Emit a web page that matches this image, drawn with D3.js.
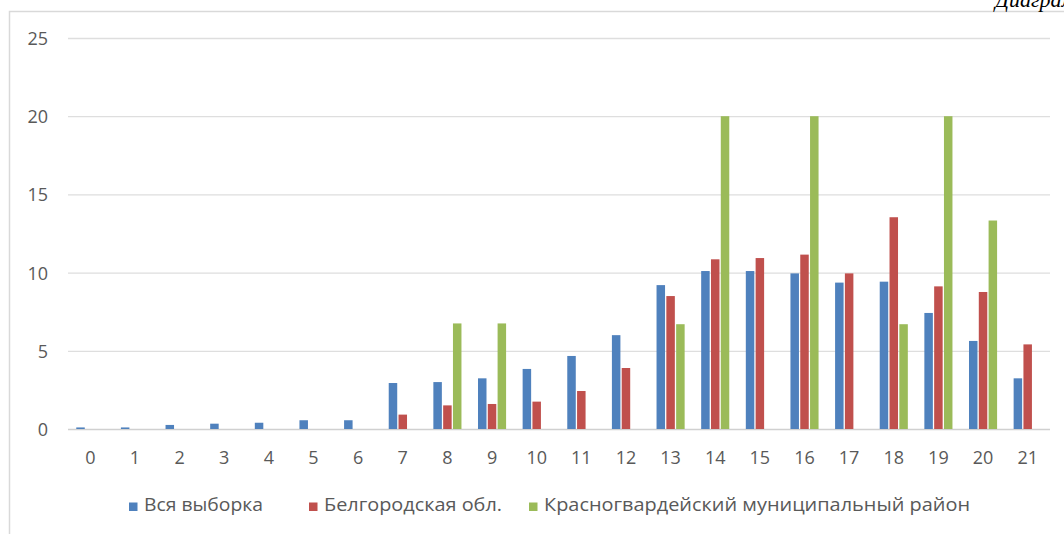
<!DOCTYPE html>
<html><head><meta charset="utf-8">
<script src="https://cdn.jsdelivr.net/npm/d3@7"></script>
<style>body{margin:0;background:#fff}svg{display:block}</style>
</head><body>
<svg id="c" width="1064" height="534"></svg>
<script>
const categories = ["0","1","2","3","4","5","6","7","8","9","10","11","12","13","14","15","16","17","18","19","20","21"];
const seriesNames = ["Вся выборка","Белгородская обл.","Красногвардейский муниципальный район"];
const allSample = [0.1,0.1,0.26,0.34,0.4,0.56,0.56,2.94,3.0,3.24,3.84,4.67,6.0,9.2,10.1,10.1,9.95,9.36,9.42,7.42,5.63,3.24];
const belgorod = [0,0,0,0,0,0,0,0.92,1.51,1.6,1.75,2.43,3.9,8.5,10.85,10.93,11.15,9.95,13.54,9.12,8.76,5.41];
const krasnogv = [0,0,0,0,0,0,0,0,6.75,6.75,0,0,0,6.7,20,0,20,0,6.7,20,13.33,0];
const yTicks = [0,5,10,15,20,25];
const colors = ["#4f81bd","#c0504d","#9bbb59"];
const series = [allSample, belgorod, krasnogv];

const svg = d3.select("#c");
const font = "'Open Sans', 'Noto Sans', sans-serif";

// frame
svg.append("path").attr("d","M9.5,534 L9.5,11.5 L1064,11.5").attr("fill","none").attr("stroke","#d9d9d9").attr("stroke-width",1.5);
// cut-off title (cut off in the reference as well)
svg.append("text").attr("x",995).attr("y",7).attr("font-family","'Liberation Serif', serif").attr("font-style","italic").attr("font-size",22).attr("fill","#000").text("Диаграмма");

const x = d3.scaleBand().domain(categories).range([68,1050]);
const y = d3.scaleLinear().domain([0,25]).range([429,38]);

// gridlines
svg.append("g").selectAll("line").data(yTicks).join("line")
  .attr("x1",68).attr("x2",1050).attr("y1",d=>y(d)+0.5).attr("y2",d=>y(d)+0.5)
  .attr("stroke",d=>d===0?"#d0d0d0":"#dedede").attr("stroke-width",1.3);

// y labels
svg.append("g").selectAll("text").data(yTicks).join("text")
  .attr("x",48).attr("y",d=>y(d)+7).attr("text-anchor","end")
  .attr("font-family",font).attr("font-size",18).attr("fill","#595959").text(d=>d);

// x labels
svg.append("g").selectAll("text").data(categories).join("text")
  .attr("x",d=>x(d)+x.bandwidth()/2).attr("y",464).attr("text-anchor","middle")
  .attr("font-family",font).attr("font-size",18).attr("fill","#595959").text(d=>d);

// bars
const bw = 8.5, gap = 1.3;
const groupW = 3*bw + 2*gap;
series.forEach((vals,si)=>{
  svg.append("g").selectAll("rect").data(vals.map((v,i)=>({v,c:categories[i]}))).join("rect")
    .attr("x",d=>x(d.c)+x.bandwidth()/2-groupW/2+si*(bw+gap))
    .attr("width",bw)
    .attr("y",d=>y(d.v))
    .attr("height",d=>y(0)-y(d.v))
    .attr("fill",colors[si]);
});

// legend
const legX = [129,309,529];
const legW = [119,178,426];
const lg = svg.append("g");
seriesNames.forEach((n,i)=>{
  lg.append("rect").attr("x",legX[i]).attr("y",502.5).attr("width",8.5).attr("height",8.5).attr("fill",colors[i]);
  lg.append("text").attr("x",legX[i]+15).attr("y",511).attr("font-family",font).attr("font-size",18)
    .attr("textLength",legW[i]).attr("lengthAdjust","spacingAndGlyphs").attr("fill","#595959").text(n);
});
</script>
</body></html>
